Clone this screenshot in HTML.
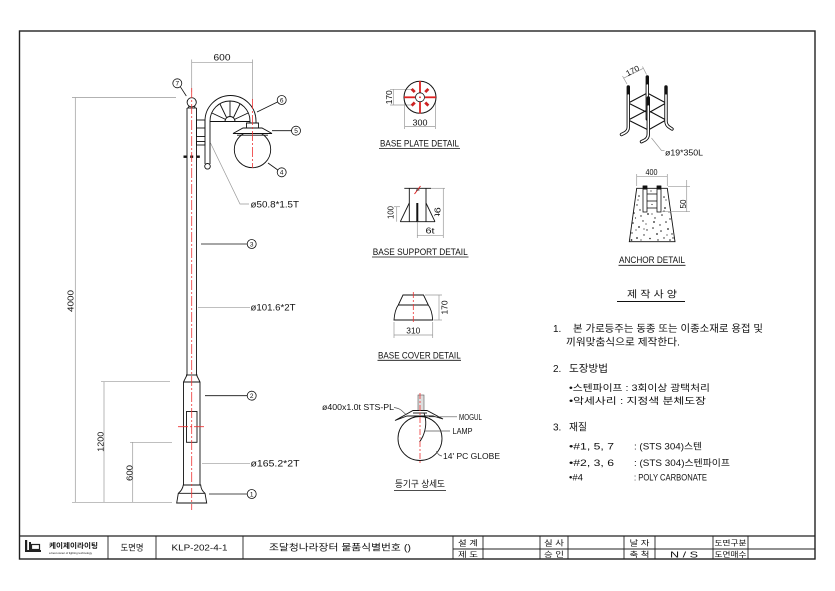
<!DOCTYPE html>
<html><head><meta charset="utf-8">
<style>
html,body{margin:0;padding:0;background:#fff;}
svg{display:block;}
text{font-family:"Liberation Sans","Noto Sans CJK KR",sans-serif;fill:#111;}
.k{font-family:"Liberation Sans","Noto Sans CJK KR",sans-serif;}
</style></head><body>
<svg width="835" height="591" viewBox="0 0 835 591" xmlns="http://www.w3.org/2000/svg">
<rect width="835" height="591" fill="#fff"/>

<!-- border -->
<rect x="19.5" y="31" width="795.5" height="528" fill="none" stroke="#222" stroke-width="1.4"/>
<line x1="19.5" y1="536" x2="815" y2="536" stroke="#222" stroke-width="1.2"/>
<g stroke="#222" stroke-width="0.9">
<line x1="108" y1="536" x2="108" y2="559"/>
<line x1="156" y1="536" x2="156" y2="559"/>
<line x1="243" y1="536" x2="243" y2="559"/>
<line x1="453" y1="536" x2="453" y2="559"/>
<line x1="483" y1="536" x2="483" y2="559"/>
<line x1="540" y1="536" x2="540" y2="559"/>
<line x1="568" y1="536" x2="568" y2="559"/>
<line x1="624" y1="536" x2="624" y2="559"/>
<line x1="655" y1="536" x2="655" y2="559"/>
<line x1="713" y1="536" x2="713" y2="559"/>
<line x1="748" y1="536" x2="748" y2="559"/>
<line x1="453" y1="549" x2="815" y2="549"/>
</g>
<!-- logo -->
<g fill="#222">
<rect x="25" y="540" width="2.2" height="12"/>
<rect x="25" y="550" width="16" height="2"/>
<rect x="29" y="542" width="2" height="8"/>
</g>
<rect x="31.5" y="544.5" width="8" height="5" fill="none" stroke="#222" stroke-width="1.2"/>
<text x="49" y="548" font-size="7" font-weight="bold" textLength="49" lengthAdjust="spacingAndGlyphs">케이제이라이팅</text>
<text x="49" y="554" font-size="3" fill="#666" textLength="43" lengthAdjust="spacingAndGlyphs">a best owner of lighting technology</text>
<text x="132" y="550.5" font-size="8.5" text-anchor="middle" textLength="23" lengthAdjust="spacingAndGlyphs">도면명</text>
<text x="199.5" y="550.5" font-size="8.5" text-anchor="middle" textLength="56" lengthAdjust="spacingAndGlyphs">KLP-202-4-1</text>
<text x="340" y="550.5" font-size="9" text-anchor="middle" textLength="142" lengthAdjust="spacingAndGlyphs">조달청나라장터 물품식별번호 ()</text>
<g font-size="7.5">
<text x="468" y="545.5" text-anchor="middle" textLength="20" lengthAdjust="spacingAndGlyphs">설 계</text>
<text x="468" y="557" text-anchor="middle" textLength="20" lengthAdjust="spacingAndGlyphs">제 도</text>
<text x="554" y="545.5" text-anchor="middle" textLength="20" lengthAdjust="spacingAndGlyphs">실 사</text>
<text x="554" y="557" text-anchor="middle" textLength="20" lengthAdjust="spacingAndGlyphs">승 인</text>
<text x="639.5" y="545.5" text-anchor="middle" textLength="20" lengthAdjust="spacingAndGlyphs">날 자</text>
<text x="639.5" y="557" text-anchor="middle" textLength="20" lengthAdjust="spacingAndGlyphs">축 척</text>
<text x="730.5" y="545.5" text-anchor="middle" textLength="32" lengthAdjust="spacingAndGlyphs">도면구분</text>
<text x="730.5" y="557" text-anchor="middle" textLength="32" lengthAdjust="spacingAndGlyphs">도면매수</text>
</g>
<text x="684" y="557.5" font-size="8.5" text-anchor="middle" textLength="28" lengthAdjust="spacingAndGlyphs">N / S</text>

<!-- ============ POLE ============ -->
<!-- dimension lines (gray) -->
<g stroke="#999" stroke-width="0.7" fill="none">
<line x1="72" y1="97.5" x2="176" y2="97.5"/>
<line x1="75.3" y1="97.5" x2="75.3" y2="502.3"/>
<line x1="72" y1="502.3" x2="172" y2="502.3"/>
<line x1="101" y1="381.7" x2="170" y2="381.7"/>
<line x1="104" y1="381.7" x2="104" y2="502.3"/>
<line x1="130" y1="442.3" x2="172" y2="442.3"/>
<line x1="132.7" y1="442.3" x2="132.7" y2="502.3"/>
<line x1="191.7" y1="62.7" x2="252.5" y2="62.7"/>
<line x1="191.7" y1="59.5" x2="191.7" y2="92"/>
<line x1="252.5" y1="59.5" x2="252.5" y2="100"/>
<!-- phi leaders -->
<polyline points="210.5,143 240,204 249,204"/>
<line x1="198" y1="307.3" x2="250" y2="307.3"/>
<line x1="202" y1="463.3" x2="250" y2="463.3"/>
</g>
<text transform="translate(70.5,301) rotate(-90)" font-size="8.5" text-anchor="middle" dy="3" textLength="22" lengthAdjust="spacingAndGlyphs">4000</text>
<text transform="translate(100.5,441.7) rotate(-90)" font-size="8.5" text-anchor="middle" dy="3" textLength="20" lengthAdjust="spacingAndGlyphs">1200</text>
<text transform="translate(129.3,473) rotate(-90)" font-size="8.5" text-anchor="middle" dy="3" textLength="16" lengthAdjust="spacingAndGlyphs">600</text>
<text x="222" y="60.5" font-size="9" text-anchor="middle" textLength="17" lengthAdjust="spacingAndGlyphs">600</text>
<text x="250.5" y="207.3" font-size="9" textLength="48.5" lengthAdjust="spacingAndGlyphs">ø50.8*1.5T</text>
<text x="250.5" y="310.5" font-size="9" textLength="45" lengthAdjust="spacingAndGlyphs">ø101.6*2T</text>
<text x="250.5" y="466.5" font-size="9" textLength="49" lengthAdjust="spacingAndGlyphs">ø165.2*2T</text>

<!-- pole body -->
<g stroke="#111" stroke-width="0.9" fill="none">
<line x1="187" y1="108" x2="187" y2="375"/>
<line x1="196.5" y1="108" x2="196.5" y2="375"/>
<line x1="187" y1="108" x2="196.5" y2="108"/>
<path d="M188.5,108 L189,105.5 M195,108 L194.5,105.5"/>
<circle cx="191.7" cy="102.3" r="4.6" fill="#fff"/>
<line x1="186" y1="375" x2="197.5" y2="375"/>
<path d="M187,375 L183.5,382 L183.5,485 M196.5,375 L200,382 L200,485"/>
<line x1="183.5" y1="382" x2="200" y2="382"/>
<rect x="186.5" y="411.5" width="10.5" height="30.8"/>
<path d="M183.3,485 L200.7,485 Q201,490 205,493.3 L206.7,503 L176.7,503 L178.3,493.3 Q182.5,490 183.3,485 Z" fill="#fff"/>
<line x1="178.3" y1="493.3" x2="205" y2="493.3"/>
<!-- bracket -->
<rect x="196.5" y="120" width="8.5" height="16.5"/>
<rect x="196.5" y="141.5" width="8.5" height="3.5"/>
<line x1="196.5" y1="128" x2="205" y2="128"/>
<!-- arm -->
<path d="M205,164 L205,121 A25.5,25.5 0 0 1 256,121 L256,124"/>
<path d="M210,164 L210,121 A20,20 0 0 1 250,121 L250,124"/>
<circle cx="207.5" cy="166.3" r="2.8" fill="#fff"/>
<line x1="210" y1="121.5" x2="250" y2="121.5"/>
<path d="M225,121.5 A5,5 0 0 1 235,121.5"/>
<path d="M225.5,119.4 L211.9,113 M226.5,117.5 L220,104 M230,116.5 L230,101.5 M233.5,117.5 L240,104 M234.5,119.4 L248.1,113"/>
<!-- lamp -->
<circle cx="252.5" cy="149.5" r="18.2" fill="#fff"/>
<path d="M246.5,123 L258.5,123 L258.5,128 L262,128 L272,133.5 L233,133.5 L243,128 L246.5,128 Z" fill="#fff"/>
<line x1="243" y1="128" x2="262" y2="128"/>
<line x1="237" y1="135.2" x2="268" y2="135.2"/>
</g>
<!-- bolt marks -->
<g fill="#111">
<rect x="183.5" y="155.5" width="3" height="2.4"/>
<rect x="190.2" y="155.5" width="3" height="2.4"/>
<rect x="196.8" y="155.5" width="3" height="2.4"/>
</g>
<!-- centerlines -->
<g stroke="#e33" stroke-width="0.8" stroke-dasharray="10 2 2 2" fill="none">
<line x1="191.7" y1="88" x2="191.7" y2="510"/>
<line x1="252.5" y1="99" x2="252.5" y2="168"/>
<line x1="178" y1="426.7" x2="205" y2="426.7"/>
</g>
<!-- callouts -->
<g stroke="#111" stroke-width="0.8" fill="none">
<line x1="180.3" y1="86.7" x2="186.3" y2="96"/>
<line x1="277.5" y1="102" x2="257" y2="112"/>
<line x1="291.5" y1="130.7" x2="272" y2="130.7"/>
<line x1="277.8" y1="170" x2="268" y2="163"/>
<line x1="247.2" y1="244" x2="201" y2="244"/>
<line x1="247.2" y1="395.7" x2="205" y2="395.7"/>
<line x1="247.2" y1="494" x2="209" y2="494"/>
<circle cx="177.3" cy="83.3" r="4.5"/>
<circle cx="281.7" cy="100" r="4.5"/>
<circle cx="296" cy="130.7" r="4.5"/>
<circle cx="281.7" cy="172.3" r="4.5"/>
<circle cx="251.7" cy="244" r="4.5"/>
<circle cx="251.7" cy="395.7" r="4.5"/>
<circle cx="251.7" cy="494" r="4.5"/>
</g>
<g font-size="6.5" text-anchor="middle">
<text x="177.3" y="85.6">7</text>
<text x="281.7" y="102.3">6</text>
<text x="296" y="133">5</text>
<text x="281.7" y="174.6">4</text>
<text x="251.7" y="246.3">3</text>
<text x="251.7" y="398">2</text>
<text x="251.7" y="496.3">1</text>
</g>

<!-- ============ BASE PLATE ============ -->
<g stroke="#999" stroke-width="0.7" fill="none">
<line x1="393.3" y1="89.3" x2="393.3" y2="105"/>
<line x1="390" y1="89.3" x2="413" y2="89.3"/>
<line x1="390" y1="105" x2="413" y2="105"/>
<line x1="405" y1="126.5" x2="435" y2="126.5"/>
<line x1="404.5" y1="100" x2="404.5" y2="129"/>
<line x1="435.5" y1="100" x2="435.5" y2="129"/>
</g>
<circle cx="420" cy="97.3" r="16" fill="none" stroke="#111" stroke-width="1"/>
<circle cx="420" cy="97.3" r="4.5" fill="none" stroke="#111" stroke-width="0.8"/>
<g stroke="#d22" stroke-width="1.8">
<line x1="404" y1="97.3" x2="415" y2="97.3"/>
<line x1="425" y1="97.3" x2="436" y2="97.3"/>
<line x1="420" y1="81" x2="420" y2="92.5"/>
<line x1="420" y1="102" x2="420" y2="113.5"/>
</g>
<circle cx="420" cy="97.3" r="0.9" fill="#d22"/>
<g fill="#c22">
<rect x="-2.2" y="-1.4" width="4.4" height="2.8" transform="translate(413.2,90.5) rotate(45)"/>
<rect x="-2.2" y="-1.4" width="4.4" height="2.8" transform="translate(426.8,90.5) rotate(-45)"/>
<rect x="-2.2" y="-1.4" width="4.4" height="2.8" transform="translate(413.2,104.1) rotate(-45)"/>
<rect x="-2.2" y="-1.4" width="4.4" height="2.8" transform="translate(426.8,104.1) rotate(45)"/>
</g>
<text transform="translate(389,97.3) rotate(-90)" font-size="8" text-anchor="middle" dy="3" textLength="14" lengthAdjust="spacingAndGlyphs">170</text>
<text x="420" y="125.3" font-size="8.5" text-anchor="middle" textLength="15" lengthAdjust="spacingAndGlyphs">300</text>
<text x="380" y="146.3" font-size="9.5" textLength="79" lengthAdjust="spacingAndGlyphs">BASE PLATE DETAIL</text>
<line x1="379" y1="148.6" x2="460" y2="148.6" stroke="#111" stroke-width="0.8"/>

<!-- ============ BASE SUPPORT ============ -->
<g stroke="#111" stroke-width="0.9" fill="none">
<line x1="404.3" y1="188.3" x2="431" y2="188.3"/>
<line x1="409.3" y1="188.3" x2="409.3" y2="221.7"/>
<line x1="426" y1="188.3" x2="426" y2="221.7"/>
<line x1="409.3" y1="203" x2="400.3" y2="221.7"/>
<line x1="426" y1="203" x2="435" y2="221.7"/>
<line x1="400.3" y1="221.7" x2="435" y2="221.7"/>
</g>
<line x1="417.3" y1="203" x2="417.3" y2="221.7" stroke="#111" stroke-width="2"/>
<line x1="414.5" y1="194" x2="420.5" y2="186" stroke="#d22" stroke-width="1"/>
<line x1="416" y1="190" x2="419.5" y2="190" stroke="#111" stroke-width="0.8"/>
<g stroke="#999" stroke-width="0.7" fill="none">
<line x1="396.7" y1="206.7" x2="396.7" y2="221.7"/>
<line x1="394" y1="206.7" x2="400" y2="206.7"/>
<line x1="443.3" y1="188" x2="443.3" y2="238"/>
<line x1="417.3" y1="221.7" x2="417.3" y2="238"/>
<line x1="417.3" y1="235.7" x2="443.3" y2="235.7"/>
<line x1="431" y1="188.3" x2="445" y2="188.3"/>
</g>
<text transform="translate(390.5,212.5) rotate(-90)" font-size="8" text-anchor="middle" dy="3" textLength="13" lengthAdjust="spacingAndGlyphs">100</text>
<text transform="translate(437.3,211.7) rotate(90)" font-size="8" text-anchor="middle" dy="3" textLength="9" lengthAdjust="spacingAndGlyphs">9t</text>
<text x="430" y="233.5" font-size="8" text-anchor="middle" textLength="9" lengthAdjust="spacingAndGlyphs">6t</text>
<text x="372.7" y="255" font-size="9.5" textLength="95" lengthAdjust="spacingAndGlyphs">BASE SUPPORT DETAIL</text>
<line x1="372" y1="257" x2="468.5" y2="257" stroke="#111" stroke-width="0.8"/>

<!-- ============ BASE COVER ============ -->
<g stroke="#111" stroke-width="0.9" fill="none">
<path d="M403,295 L423.5,295 L428.3,305 Q432,310 432.7,320 L394,320 Q394.7,310 398.3,305 Z"/>
<line x1="398.3" y1="305" x2="428.3" y2="305"/>
</g>
<line x1="413.3" y1="292" x2="413.3" y2="322" stroke="#e33" stroke-width="0.8" stroke-dasharray="6 2 2 2"/>
<g stroke="#999" stroke-width="0.7" fill="none">
<line x1="439" y1="295" x2="439" y2="320"/>
<line x1="425" y1="295" x2="442" y2="295"/>
<line x1="434" y1="320" x2="442" y2="320"/>
<line x1="394" y1="335" x2="432.7" y2="335"/>
<line x1="394" y1="322" x2="394" y2="338"/>
<line x1="432.7" y1="322" x2="432.7" y2="338"/>
</g>
<text transform="translate(444.7,307.5) rotate(-90)" font-size="8" text-anchor="middle" dy="3" textLength="14" lengthAdjust="spacingAndGlyphs">170</text>
<text x="413.3" y="333.5" font-size="8.5" text-anchor="middle" textLength="14" lengthAdjust="spacingAndGlyphs">310</text>
<text x="378" y="358.3" font-size="9.5" textLength="82.7" lengthAdjust="spacingAndGlyphs">BASE COVER DETAIL</text>
<line x1="377.5" y1="360.3" x2="461" y2="360.3" stroke="#111" stroke-width="0.8"/>

<!-- ============ LAMP DETAIL ============ -->
<rect x="418" y="395" width="6" height="16" fill="#ddd" stroke="#555" stroke-width="0.6"/>
<g stroke="#111" stroke-width="0.9" fill="none">
<circle cx="420" cy="438.5" r="22" fill="#fff"/>
<path d="M413,410.5 L427,410.5 L443,419 L433,416 L407,416 L395,420.5 L413,410.5 Z" fill="#fff"/>
<line x1="413" y1="413" x2="427" y2="413"/>
<path d="M424,413 Q428,424 423,436 Q421,440 419.5,442"/>
</g>
<line x1="420" y1="393" x2="420" y2="463" stroke="#e33" stroke-width="0.8" stroke-dasharray="6 2 2 2"/>
<g stroke="#555" stroke-width="0.7" fill="none">
<path d="M394,407.5 Q398,408 401,410 L406,414.5"/>
<line x1="429" y1="416.8" x2="457" y2="416.8"/>
<line x1="425" y1="431" x2="450" y2="431"/>
<path d="M436.5,451 Q438,455.5 442,456"/>
</g>
<text x="322" y="410" font-size="8.5" textLength="72" lengthAdjust="spacingAndGlyphs">ø400x1.0t STS-PL</text>
<text x="459" y="419.8" font-size="8.5" textLength="23" lengthAdjust="spacingAndGlyphs">MOGUL</text>
<text x="452.5" y="434" font-size="8.5" textLength="20" lengthAdjust="spacingAndGlyphs">LAMP</text>
<text x="443" y="459" font-size="8.5" textLength="57" lengthAdjust="spacingAndGlyphs">14' PC GLOBE</text>
<text x="395" y="487" font-size="9" textLength="50" lengthAdjust="spacingAndGlyphs">등기구 상세도</text>
<line x1="394" y1="490.5" x2="446" y2="490.5" stroke="#111" stroke-width="0.8"/>

<!-- ============ ANCHOR CAGE ============ -->
<g stroke="#111" stroke-width="1.1" fill="none">
<polygon points="628.3,103 647.3,93 666,103 648.3,113"/>
<polygon points="628.3,120 647.3,110 666,120 648.3,130"/>
</g>
<g fill="none" stroke-linecap="round">
<path d="M647.3,77 L647.3,119" stroke="#111" stroke-width="3.4"/>
<path d="M647.3,85 L647.3,118" stroke="#fff" stroke-width="1.6"/>
<path d="M628.3,87 L628.3,127 Q628.3,131 624.5,133 L621.5,134.5" stroke="#111" stroke-width="3.4"/>
<path d="M628.3,95 L628.3,127 Q628.3,131 624.5,133 L621.5,134.5" stroke="#fff" stroke-width="1.6"/>
<path d="M666,87 L666,121 Q666,125 669,127 L672,129" stroke="#111" stroke-width="3.4"/>
<path d="M666,95 L666,121 Q666,125 669,127 L672,129" stroke="#fff" stroke-width="1.6"/>
<path d="M648.3,98 L648.3,134 Q648.3,138 645,140 L641.5,141.7" stroke="#111" stroke-width="3.4"/>
<path d="M648.3,106 L648.3,134 Q648.3,138 645,140 L641.5,141.7" stroke="#fff" stroke-width="1.6"/>
</g>
<g stroke="#999" stroke-width="0.7" fill="none">
<line x1="623.3" y1="78.3" x2="643.3" y2="68.3"/>
<line x1="627" y1="84" x2="622.5" y2="76"/>
<line x1="646.5" y1="74.5" x2="642.5" y2="66.5"/>
<polyline points="651.5,138 661.5,150.5 664.5,150.5"/>
</g>
<text transform="translate(632.7,71) rotate(-27)" font-size="8" text-anchor="middle" dy="2.5" textLength="14" lengthAdjust="spacingAndGlyphs">170</text>
<text x="665" y="155.5" font-size="8.5" textLength="38" lengthAdjust="spacingAndGlyphs">ø19*350L</text>

<!-- ============ ANCHOR BLOCK ============ -->
<polygon points="636.7,188.3 667.3,188.3 675,241.7 629.3,241.7" fill="none" stroke="#111" stroke-width="0.9"/>
<g stroke="#111" stroke-width="0.8" fill="#fff">
<rect x="643" y="186" width="4" height="26"/>
<rect x="657" y="186" width="4" height="26"/>
</g>
<g fill="#111">
<rect x="643" y="185.5" width="4" height="4"/>
<rect x="657" y="185.5" width="4" height="4"/>
</g>
<g stroke="#111" stroke-width="0.8">
<line x1="647" y1="194" x2="657" y2="194"/>
<line x1="647" y1="201" x2="657" y2="201"/>
<line x1="647" y1="208" x2="657" y2="208"/>
</g>
<g fill="#222">
<circle cx="639" cy="196" r="0.8"/><circle cx="651" cy="191" r="0.6"/><circle cx="664" cy="197" r="0.8"/>
<circle cx="637" cy="205" r="0.7"/><circle cx="652" cy="204.5" r="0.6"/><circle cx="665" cy="208" r="0.9"/>
<circle cx="634" cy="213" r="0.8"/><circle cx="641" cy="216" r="0.7"/><circle cx="648" cy="214" r="0.9"/>
<circle cx="655" cy="218" r="0.7"/><circle cx="662" cy="215" r="0.8"/><circle cx="670" cy="219" r="0.7"/>
<circle cx="633" cy="223" r="0.8"/><circle cx="639" cy="227" r="0.9"/><circle cx="646" cy="224" r="0.6"/>
<circle cx="653" cy="228" r="0.8"/><circle cx="660" cy="225" r="0.7"/><circle cx="668" cy="229" r="0.9"/>
<circle cx="672" cy="234" r="0.7"/><circle cx="632" cy="233" r="0.7"/><circle cx="637" cy="238" r="0.9"/>
<circle cx="644" cy="235" r="0.7"/><circle cx="650" cy="238.5" r="0.8"/><circle cx="657" cy="234" r="0.9"/>
<circle cx="664" cy="238" r="0.7"/><circle cx="670" cy="240" r="0.8"/><circle cx="631.5" cy="240" r="0.9"/>
<circle cx="647" cy="230" r="0.7"/><circle cx="666" cy="222" r="0.8"/><circle cx="635.5" cy="218" r="0.6"/>
<circle cx="664" cy="211" r="0.6"/><circle cx="640" cy="210" r="0.7"/><circle cx="669" cy="212" r="0.6"/>
<circle cx="654" cy="222" r="0.9"/><circle cx="643" cy="221" r="0.7"/><circle cx="661" cy="231" r="0.8"/>
<circle cx="636" cy="230" r="0.6"/><circle cx="673" cy="238" r="0.7"/><circle cx="652" cy="214" r="0.6"/>
<circle cx="658" cy="240" r="0.7"/><circle cx="641" cy="240" r="0.6"/><circle cx="666" cy="200" r="0.6"/>
<circle cx="638" cy="200" r="0.6"/><circle cx="644" cy="229" r="0.6"/><circle cx="667" cy="235" r="0.6"/>
</g>
<g stroke="#999" stroke-width="0.7" fill="none">
<line x1="636.7" y1="176.7" x2="667.3" y2="176.7"/>
<line x1="636.7" y1="174" x2="636.7" y2="186"/>
<line x1="667.3" y1="174" x2="667.3" y2="186"/>
<line x1="668" y1="186.7" x2="690" y2="186.7"/>
<line x1="686.7" y1="180" x2="686.7" y2="212"/>
<line x1="662" y1="211.7" x2="690" y2="211.7"/>
</g>
<text x="651.5" y="175" font-size="8.5" text-anchor="middle" textLength="12" lengthAdjust="spacingAndGlyphs">400</text>
<text transform="translate(683,204) rotate(-90)" font-size="8" text-anchor="middle" dy="3" textLength="9" lengthAdjust="spacingAndGlyphs">50</text>
<text x="619" y="263" font-size="9.5" textLength="66" lengthAdjust="spacingAndGlyphs">ANCHOR DETAIL</text>
<line x1="618.5" y1="265.3" x2="685.5" y2="265.3" stroke="#111" stroke-width="0.8"/>

<!-- ============ SPECS ============ -->
<text x="627" y="297.5" font-size="9.5" textLength="50" lengthAdjust="spacingAndGlyphs">제 작 사 양</text>
<line x1="617" y1="301.5" x2="685" y2="301.5" stroke="#111" stroke-width="1"/>
<g font-size="10">
<text x="553" y="332">1.</text>
<text x="573" y="332" textLength="190" lengthAdjust="spacingAndGlyphs">본 가로등주는 동종 또는 이종소재로 용접 및</text>
<text x="566" y="345.5" textLength="114" lengthAdjust="spacingAndGlyphs">끼워맞춤식으로 제작한다.</text>
<text x="553" y="372">2.</text>
<text x="569" y="372" textLength="39" lengthAdjust="spacingAndGlyphs">도장방법</text>
<text x="553" y="430.5">3.</text>
<text x="569" y="430.5" textLength="18" lengthAdjust="spacingAndGlyphs">재질</text>
</g>
<g font-size="9">
<text x="569" y="390.8" textLength="141" lengthAdjust="spacingAndGlyphs">•스텐파이프 : 3회이상 광택처리</text>
<text x="569" y="404.2" textLength="137" lengthAdjust="spacingAndGlyphs">•악세사리 : 지정색 분체도장</text>
<text x="569" y="449.3" textLength="45" lengthAdjust="spacingAndGlyphs">•#1, 5, 7</text>
<text x="634" y="449.3" textLength="68" lengthAdjust="spacingAndGlyphs">: (STS 304)스텐</text>
<text x="569" y="466" textLength="45" lengthAdjust="spacingAndGlyphs">•#2, 3, 6</text>
<text x="634" y="466" textLength="96" lengthAdjust="spacingAndGlyphs">: (STS 304)스텐파이프</text>
<text x="569" y="480.6" textLength="14" lengthAdjust="spacingAndGlyphs">•#4</text>
<text x="634" y="480.6" textLength="73" lengthAdjust="spacingAndGlyphs">: POLY CARBONATE</text>
</g>
</svg>
</body></html>
